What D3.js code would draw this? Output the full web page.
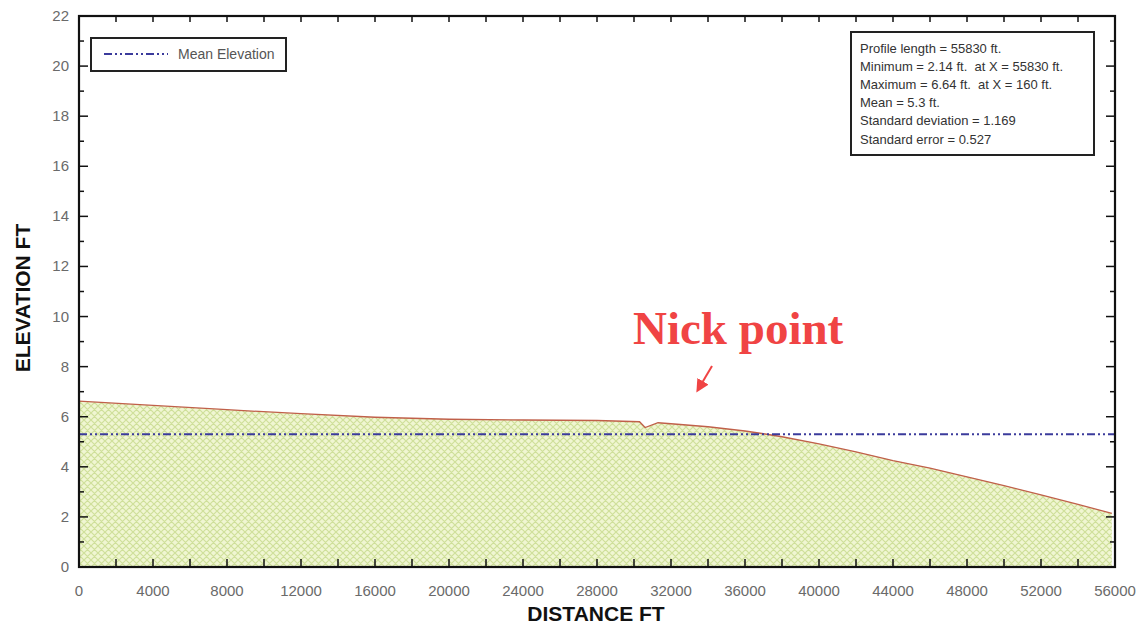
<!DOCTYPE html>
<html>
<head>
<meta charset="utf-8">
<script src="https://cdn.jsdelivr.net/npm/d3@7"></script>
<style>
  html, body { margin: 0; padding: 0; background: #fff; }
  svg { display: block; }
  .pre { white-space: pre; }
</style>
</head>
<body>
<svg id="chart" width="1144" height="625"></svg>
<script>
// ---- data ----
const distance  = [0, 4000, 8000, 12000, 16000, 20000, 24000, 28000, 30300, 30600, 31300, 32000, 34000, 36000, 37000, 38000, 40000, 42000, 44000, 46000, 48000, 50000, 52000, 54000, 55830];
const elevation = [6.62, 6.45, 6.28, 6.12, 5.98, 5.9, 5.87, 5.85, 5.8, 5.57, 5.76, 5.72, 5.6, 5.43, 5.32, 5.2, 4.92, 4.6, 4.25, 3.95, 3.6, 3.25, 2.88, 2.5, 2.14];
const meanElevation = 5.3;
const xTicks = [0, 4000, 8000, 12000, 16000, 20000, 24000, 28000, 32000, 36000, 40000, 44000, 48000, 52000, 56000];
const yTicks = [0, 2, 4, 6, 8, 10, 12, 14, 16, 18, 20, 22];
const statsLines = [
  "Profile length = 55830 ft.",
  "Minimum = 2.14 ft.  at X = 55830 ft.",
  "Maximum = 6.64 ft.  at X = 160 ft.",
  "Mean = 5.3 ft.",
  "Standard deviation = 1.169",
  "Standard error = 0.527"
];
const legendLabel = "Mean Elevation";
const annotation = "Nick point";

// ---- layout ----
const svg = d3.select("#chart");
const L = 79, R = 1115, T = 16, B = 567;
const x = d3.scaleLinear().domain([0, 56000]).range([L, R]);
const y = d3.scaleLinear().domain([0, 22]).range([B, T]);

// hatch pattern
const defs = svg.append("defs");
const P = 7;
const pat = defs.append("pattern").attr("id", "hatch").attr("patternUnits", "userSpaceOnUse")
  .attr("width", P).attr("height", P);
pat.append("rect").attr("width", P).attr("height", P).attr("fill", "#f0f6d2");
pat.append("path").attr("d", `M0,0 L${P},${P} M${P},0 L0,${P} M-1,${P-1} L1,${P+1} M${P-1},-1 L${P+1},1 M-1,1 L1,-1 M${P-1},${P+1} L${P+1},${P-1}`)
  .attr("stroke", "#cfe09a").attr("stroke-width", 1.2);

const pts = distance.map((d, i) => [d, elevation[i]]);

// area
svg.append("path").datum(pts)
  .attr("d", d3.area().x(d => x(d[0])).y0(y(0)).y1(d => y(d[1])))
  .attr("fill", "url(#hatch)");

// profile line
svg.append("path").datum(pts)
  .attr("d", d3.line().x(d => x(d[0])).y(d => y(d[1])))
  .attr("fill", "none").attr("stroke", "#c0604a").attr("stroke-width", 1.3);

// mean line
svg.append("line")
  .attr("x1", x(0)).attr("x2", x(56000))
  .attr("y1", y(meanElevation)).attr("y2", y(meanElevation))
  .attr("stroke", "#3b3b9c").attr("stroke-width", 2)
  .attr("stroke-dasharray", "8,3,2,3,2,3");

// frame
svg.append("rect").attr("x", L).attr("y", T).attr("width", R - L).attr("height", B - T)
  .attr("fill", "none").attr("stroke", "#111").attr("stroke-width", 2.2);

// ticks (inward, all sides)
const tickG = svg.append("g").attr("stroke", "#111").attr("stroke-width", 1.5);
d3.range(0, 56001, 2000).forEach(v => {
  tickG.append("line").attr("x1", x(v)).attr("x2", x(v)).attr("y1", B).attr("y2", B - 8);
  tickG.append("line").attr("x1", x(v)).attr("x2", x(v)).attr("y1", T).attr("y2", T + 6);
});
d3.range(0, 23, 1).forEach(v => {
  const len = v % 2 === 0 ? 9 : 5;
  tickG.append("line").attr("x1", L).attr("x2", L + len).attr("y1", y(v)).attr("y2", y(v));
  tickG.append("line").attr("x1", R).attr("x2", R - len).attr("y1", y(v)).attr("y2", y(v));
});

// tick labels
const font = "'Liberation Sans', Arial, sans-serif";
svg.append("g").selectAll("text").data(xTicks).join("text")
  .attr("x", d => x(d)).attr("y", 596)
  .attr("text-anchor", "middle")
  .attr("font-family", font).attr("font-size", 15).attr("fill", "#6a6a6a")
  .text(d => d);
svg.append("g").selectAll("text").data(yTicks).join("text")
  .attr("x", 69).attr("y", d => y(d) + 5)
  .attr("text-anchor", "end")
  .attr("font-family", font).attr("font-size", 15).attr("fill", "#6a6a6a")
  .text(d => d);

// axis titles
svg.append("text").attr("x", 596).attr("y", 621).attr("text-anchor", "middle")
  .attr("font-family", font).attr("font-size", 21).attr("font-weight", "bold").attr("fill", "#111")
  .text("DISTANCE FT");
svg.append("text").attr("transform", "translate(30,298) rotate(-90)").attr("text-anchor", "middle")
  .attr("font-family", font).attr("font-size", 21).attr("font-weight", "bold").attr("fill", "#111")
  .text("ELEVATION FT");

// legend
const lg = svg.append("g");
lg.append("rect").attr("x", 91).attr("y", 38).attr("width", 195).attr("height", 33)
  .attr("fill", "#fff").attr("stroke", "#222").attr("stroke-width", 2);
lg.append("line").attr("x1", 104).attr("x2", 168).attr("y1", 54).attr("y2", 54)
  .attr("stroke", "#3b3b9c").attr("stroke-width", 2).attr("stroke-dasharray", "8,3,2,3,2,3");
lg.append("text").attr("x", 178).attr("y", 59)
  .attr("font-family", font).attr("font-size", 14).attr("fill", "#555").text(legendLabel);

// stats box
const sg = svg.append("g");
sg.append("rect").attr("x", 851).attr("y", 32).attr("width", 243).attr("height", 123)
  .attr("fill", "#fff").attr("stroke", "#222").attr("stroke-width", 2);
sg.selectAll("text").data(statsLines).join("text")
  .attr("class", "pre")
  .attr("x", 860).attr("y", (d, i) => 52.5 + i * 18.2)
  .attr("font-family", font).attr("font-size", 13).attr("fill", "#333")
  .text(d => d);

// annotation
svg.append("text").attr("x", 633).attr("y", 344)
  .attr("font-family", "'Liberation Serif', 'Times New Roman', serif")
  .attr("font-size", 47).attr("font-weight", "bold").attr("fill", "#f04444")
  .text(annotation);
defs.append("marker").attr("id", "arrow").attr("viewBox", "0 0 10 10")
  .attr("refX", 6).attr("refY", 5).attr("markerWidth", 6.5).attr("markerHeight", 6.5)
  .attr("markerUnits", "strokeWidth")
  .attr("orient", "auto")
  .append("path").attr("d", "M0,0 L10,5 L0,10 Z").attr("fill", "#f04444");
svg.append("line").attr("x1", 712).attr("y1", 366).attr("x2", 699).attr("y2", 388)
  .attr("stroke", "#f04444").attr("stroke-width", 2).attr("marker-end", "url(#arrow)");
</script>
</body>
</html>
